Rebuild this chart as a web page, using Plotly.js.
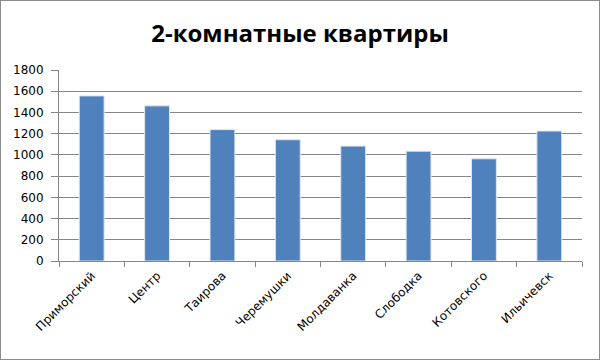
<!DOCTYPE html>
<html><head><meta charset="utf-8">
<script src="https://cdn.plot.ly/plotly-3.0.1.min.js"></script>
<style>
html,body{margin:0;padding:0;background:#fff;}
#chart{width:600px;height:360px;box-sizing:border-box;border:1px solid #8c8c8c;}
</style>
</head><body>
<div id="chart"></div>
<script>
const categories = ["Приморский","Центр","Таирова","Черемушки","Молдаванка","Слободка","Котовского","Ильичевск"];
const values = [1556, 1462, 1238, 1143, 1083, 1035, 963, 1225];
const yTicks = [0,200,400,600,800,1000,1200,1400,1600,1800];

const trace = {
  type: "bar",
  x: categories,
  y: values,
  marker: {color: "#4F81BD", line: {color: "#dfe6ef", width: 1}},
  hoverinfo: "x+y"
};
const layout = {
  width: 598, height: 358,
  margin: {l: 58, r: 17, t: 69, b: 98},
  paper_bgcolor: "#fff", plot_bgcolor: "#fff",
  title: {text: "<b>2-комнатные квартиры</b>", font: {family: "Open Sans", size: 24, color: "#000"}, x: 0.5, xanchor: "center", y: 0.91, yanchor: "middle"},
  bargap: 0.62,
  showlegend: false,
  xaxis: {
    type: "category",
    tickangle: -45,
    ticks: "outside", tickson: "boundaries", ticklen: 5, tickcolor: "#868686",
    showline: true, linecolor: "#868686", linewidth: 1,
    showgrid: false,
    ticklabelstandoff: 2,
    tickfont: {family: "DejaVu Sans", size: 12, color: "#000"}
  },
  yaxis: {
    range: [0, 1800],
    tickvals: yTicks,
    ticks: "outside", ticklen: 7, tickcolor: "#868686",
    showline: true, linecolor: "#868686", linewidth: 1,
    showgrid: true, gridcolor: "#868686", gridwidth: 1,
    zeroline: false,
    ticklabelstandoff: 5,
    tickfont: {family: "DejaVu Sans", size: 12, color: "#000"}
  }
};
Plotly.newPlot("chart", [trace], layout, {displayModeBar: false, staticPlot: true});
</script>
</body></html>
